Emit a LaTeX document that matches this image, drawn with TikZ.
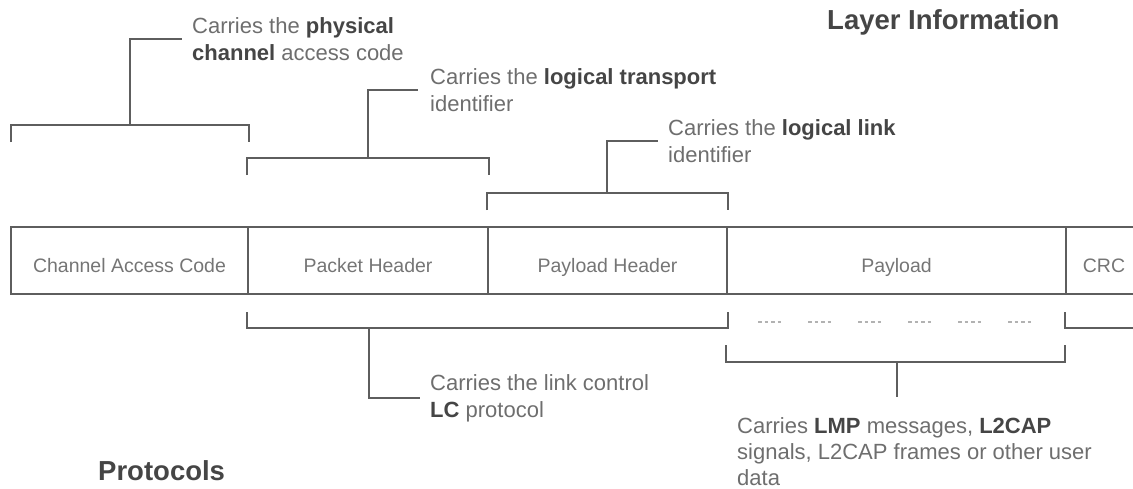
\documentclass[tikz,border=0pt]{standalone}
\usepackage{fontspec}
\setmainfont{Liberation Sans}
\usetikzlibrary{calc}
\definecolor{linec}{HTML}{5E5E5E}
\definecolor{txtc}{HTML}{6E6E6E}
\definecolor{boxtxt}{HTML}{757575}
\definecolor{dk}{HTML}{454545}
\newcommand{\strongtxt}[1]{{\bfseries\color{dk}#1}}
\tikzset{
  fieldbox/.style={draw=linec, line width=1.6pt, minimum height=67pt, inner sep=0pt,
     font=\fontsize{19.5}{23}\selectfont, text=boxtxt, text height=23pt, text depth=0pt},
  brk/.style={draw=linec, line width=1.6pt},
  annot/.style={font=\fontsize{22}{27}\selectfont, text=txtc, align=left, inner ysep=0pt},
  title/.style={font=\fontsize{27.5}{31}\selectfont\bfseries, text=dk, inner sep=0pt, anchor=west},
  dsh/.style={draw=gray!60, line width=1.2pt, dash pattern=on 3.5pt off 3pt}
}
\begin{document}
\begin{tikzpicture}[x=1pt,y=-1pt]
\useasboundingbox (0,0) rectangle (1133,488);
\clip (0,0) rectangle (1133,488);
% packet fields
\node[fieldbox, minimum width=237pt] (cac) at (129.5,260.5) {Channel Access Code};
\node[fieldbox, minimum width=240pt] (ph)  at (368,260.5) {Packet Header};
\node[fieldbox, minimum width=239pt] (plh) at (607.5,260.5) {Payload Header};
\node[fieldbox, minimum width=339pt] (pl)  at (896.5,260.5) {Payload};
\node[fieldbox, minimum width=80pt]  (crc) at (1106,260.5) {};
\node[fieldbox, draw=none, minimum width=0pt] (crct) at (1104,260.5) {CRC};
% titles
\node[title] (li) at (827,22) {Layer Information};
\node[title] (pr) at (98,471) {Protocols};
% annotations
\node[annot, anchor=west, inner xsep=10pt] (t1) at (182,39) {Carries the \strongtxt{physical}\\\strongtxt{channel} access code};
\node[annot, anchor=west, inner xsep=12pt] (t2) at (418,90) {Carries the \strongtxt{logical transport}\\identifier};
\node[annot, anchor=west, inner xsep=10pt] (t3) at (658,141) {Carries the \strongtxt{logical link}\\identifier};
\node[annot, anchor=west, inner xsep=10pt] (t4) at (420,398) {Carries the link control\\\strongtxt{LC} protocol};
\node[annot, anchor=north west, inner sep=0pt, font=\fontsize{22}{26}\selectfont] (t5) at (737,417) {Carries \strongtxt{LMP} messages, \strongtxt{L2CAP}\\signals, L2CAP frames or other user\\data};
% upper brackets
\coordinate (b1) at (130,125);
\draw[brk] ([xshift=1pt]cac.north west |- 0,142) -- ([xshift=1pt]cac.north west |- 0,125) -- (cac.north east |- 0,125) -- (cac.north east |- 0,142);
\draw[brk] (b1) |- (t1.west);
\draw[brk] (ph.north west |- 0,175) -- (ph.north west |- 0,158) -- (ph.north east |- 0,158) -- (ph.north east |- 0,175);
\coordinate (b2) at (368,158);
\draw[brk] (b2) |- (t2.west);
\draw[brk] (plh.north west |- 0,210) -- (plh.north west |- 0,193) -- (plh.north east |- 0,193) -- (plh.north east |- 0,210);
\coordinate (b3) at (607,193);
\draw[brk] (b3) |- (t3.west);
% lower brackets
\draw[brk] (ph.south west |- 0,312) -- (ph.south west |- 0,328) -- (plh.south east |- 0,328) -- (plh.south east |- 0,312);
\coordinate (b4) at (369,328);
\draw[brk] (b4) |- (t4.west);
\draw[brk] (crc.south west |- 0,312) -- (crc.south west |- 0,328) -- (crc.south east |- 0,328);
\draw[brk] (pl.south west |- 0,345) -- (pl.south west |- 0,362) -- (crc.south west |- 0,362) -- (crc.south west |- 0,345);
\coordinate (b5) at (897,362);
\coordinate (b5e) at (897,397);
\draw[brk] (b5) -- (b5e);
% dashes
\foreach \x in {758,808,858,908,958,1008}
  \draw[dsh] (\x,322) -- (\x+24,322);
\end{tikzpicture}
\end{document}
